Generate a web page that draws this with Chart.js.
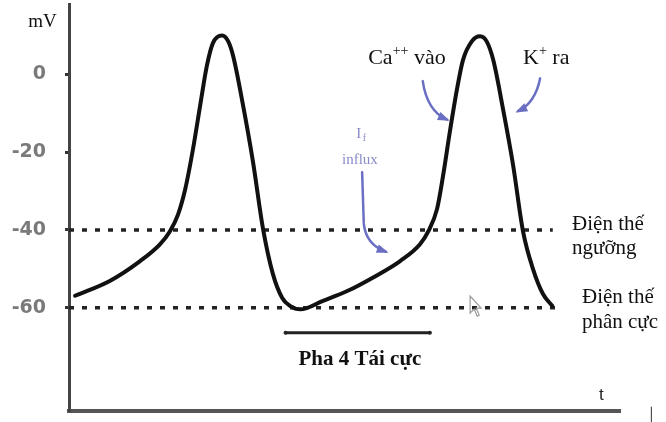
<!DOCTYPE html>
<html>
<head>
<meta charset="utf-8">
<script src="https://cdn.jsdelivr.net/npm/chart.js@4"></script>
<style>
  body { margin: 0; background: #fff; }
  canvas { display: block; }
</style>
</head>
<body>
<canvas id="apChart" width="666" height="422"></canvas>
<script>
// time (arbitrary units) and membrane potential (mV)
const times = [1.1, 7.4, 12.9, 16.5, 18.3, 19.8, 21.1, 22.5, 23.8, 25.0,
  26.1, 27.8, 28.9, 29.8, 31.6, 33.4, 35.2, 37.0, 38.7, 40.1,
  42.0, 46.1, 50.5, 55.2, 60.1, 63.7, 65.2, 66.8, 67.9, 69.1,
  70.4, 71.5, 73.1, 74.6, 75.8, 77.0, 78.8, 80.6, 82.4, 84.2,
  86.0, 87.7];
const voltages = [-56.9, -53.1, -48, -43.7, -40.4, -36, -29.5, -19.3, -8.1, 2,
  7.9, 9.9, 8.4, 4.6, -8.1, -22.6, -39.6, -51.3, -57.5, -59.5,
  -60.4, -58.2, -55.7, -52.2, -48, -43.7, -40.4, -34.6, -26, -15,
  -4, 3.6, 8.4, 9.7, 8.4, 3.6, -9.2, -23.4, -40.4, -50,
  -56.4, -59.5];
const yTicks = [0, -20, -40, -60];
const thresholdLevel = -40;
const thresholdEnd = 87.8;
const restingLevel = -60;
const restingEnd = 89;
const phaseStart = 39.3;
const phaseEnd = 65.5;
const phaseLevel = -66.4;

const blue = "#6b6fc4";
const serif = "'Liberation Serif', 'Times New Roman', serif";

// text and arrows, placed in data coordinates
const labels = [
  { parts: [{ t: "mV" }], x: -7.4, y: 12.2, size: 19 },
  { parts: [{ t: "Ca" }, { t: "++", sup: true }, { t: " vào" }], x: 54.3, y: 2.7, size: 22 },
  { parts: [{ t: "K" }, { t: "+", sup: true }, { t: " ra" }], x: 82.4, y: 2.7, size: 22 },
  { parts: [{ t: "Điện thế" }], x: 91.3, y: -40.0, size: 21 },
  { parts: [{ t: "ngưỡng" }], x: 91.3, y: -46.3, size: 21 },
  { parts: [{ t: "Điện thế" }], x: 93.1, y: -58.8, size: 21 },
  { parts: [{ t: "phân cực" }], x: 93.1, y: -65.1, size: 21 },
];

const arrows = [
  { from: [64.2, -1.8], ctrl: [65.0, -9.5], to: [68.6, -11.7] },
  { from: [85.5, -1.1], ctrl: [84.6, -7.4], to: [81.5, -9.5] },
  { from: [53.2, -25.2], mid: [53.5, -38.4], ctrl: [53.9, -43.8], to: [57.5, -45.6] },
];

function drawRich(ctx, parts, x, y, size, color, weight) {
  let cx = x;
  parts.forEach(p => {
    const s = p.sup ? Math.round(size * 0.62) : size;
    ctx.font = `${weight || ""} ${s}px ${serif}`;
    ctx.fillStyle = color;
    ctx.fillText(p.t, cx, p.sup ? y - size * 0.38 : y);
    cx += ctx.measureText(p.t).width;
  });
}

const annotate = {
  id: "annotate",
  afterDatasetsDraw(chart) {
    const { ctx, scales: { x, y } } = chart;
    const px = v => x.getPixelForValue(v);
    const py = v => y.getPixelForValue(v);
    ctx.save();
    ctx.textBaseline = "alphabetic";
    ctx.textAlign = "left";

    labels.forEach(l => drawRich(ctx, l.parts, px(l.x), py(l.y), l.size, "#111"));

    // bold phase label
    ctx.textAlign = "center";
    ctx.font = `bold 21px ${serif}`;
    ctx.fillStyle = "#111";
    ctx.fillText("Pha 4 Tái cực", px(52.8), py(-74.8));

    // I_f influx label
    ctx.fillStyle = "#8a8cc8";
    ctx.font = `15px ${serif}`;
    ctx.fillText("I", px(52.6), py(-16.3));
    ctx.font = `10px ${serif}`;
    ctx.fillText("f", px(53.6), py(-17.3));
    ctx.font = `15px ${serif}`;
    ctx.fillText("influx", px(52.8), py(-23.2));

    // t label on time axis
    ctx.textAlign = "left";
    ctx.fillStyle = "#222";
    ctx.font = "17px 'Liberation Sans', Arial, sans-serif";
    ctx.fillText("t", px(96.2), py(-83.7));

    // arrows
    ctx.strokeStyle = blue;
    ctx.fillStyle = blue;
    ctx.lineWidth = 2.5;
    ctx.lineCap = "round";
    arrows.forEach(a => {
      ctx.beginPath();
      ctx.moveTo(px(a.from[0]), py(a.from[1]));
      if (a.mid) ctx.lineTo(px(a.mid[0]), py(a.mid[1]));
      ctx.quadraticCurveTo(px(a.ctrl[0]), py(a.ctrl[1]), px(a.to[0]), py(a.to[1]));
      ctx.stroke();
      const ex = px(a.to[0]), ey = py(a.to[1]);
      const ang = Math.atan2(ey - py(a.ctrl[1]), ex - px(a.ctrl[0]));
      ctx.beginPath();
      ctx.moveTo(ex + Math.cos(ang) * 3, ey + Math.sin(ang) * 3);
      ctx.lineTo(ex - Math.cos(ang - 0.45) * 10, ey - Math.sin(ang - 0.45) * 10);
      ctx.lineTo(ex - Math.cos(ang + 0.45) * 10, ey - Math.sin(ang + 0.45) * 10);
      ctx.closePath();
      ctx.fill();
    });

    // mouse pointer left in the screenshot
    const cx0 = px(72.8), cy0 = py(-57);
    ctx.strokeStyle = "#9a9a9a";
    ctx.lineWidth = 1.2;
    ctx.beginPath();
    ctx.moveTo(cx0, cy0);
    ctx.lineTo(cx0, cy0 + 17);
    ctx.lineTo(cx0 + 4, cy0 + 13);
    ctx.lineTo(cx0 + 7, cy0 + 20);
    ctx.lineTo(cx0 + 9, cy0 + 19);
    ctx.lineTo(cx0 + 6, cy0 + 12);
    ctx.lineTo(cx0 + 11, cy0 + 12);
    ctx.closePath();
    ctx.stroke();

    // small tick at bottom right
    ctx.strokeStyle = "#333";
    ctx.lineWidth = 1;
    ctx.beginPath();
    ctx.moveTo(px(105.6) + 0.5, py(-85.5));
    ctx.lineTo(px(105.6) + 0.5, py(-89.5));
    ctx.stroke();

    ctx.restore();
  }
};

const ctx = document.getElementById("apChart").getContext("2d");

new Chart(ctx, {
  type: "line",
  data: {
    datasets: [
      {
        data: times.map((t, i) => ({ x: t, y: voltages[i] })),
        borderColor: "#111",
        borderWidth: 4,
        pointRadius: 0,
        cubicInterpolationMode: "monotone",
        borderCapStyle: "round",
        borderJoinStyle: "round",
      },
      {
        data: [{ x: 0, y: thresholdLevel }, { x: thresholdEnd, y: thresholdLevel }],
        borderColor: "#222",
        borderWidth: 3.5,
        borderDash: [5, 8],
        pointRadius: 0,
      },
      {
        data: [{ x: 0, y: restingLevel }, { x: restingEnd, y: restingLevel }],
        borderColor: "#222",
        borderWidth: 3.5,
        borderDash: [5, 8],
        pointRadius: 0,
      },
      {
        data: [{ x: phaseStart, y: phaseLevel }, { x: phaseEnd, y: phaseLevel }],
        borderColor: "#222",
        borderWidth: 3,
        pointRadius: 2,
        pointBackgroundColor: "#222",
        pointBorderWidth: 0,
      },
    ]
  },
  options: {
    responsive: false,
    animation: false,
    layout: { padding: { top: 0, right: 46, left: 0, bottom: 0 } },
    plugins: {
      legend: { display: false },
      tooltip: { enabled: false },
    },
    scales: {
      x: {
        type: "linear",
        min: 0,
        max: 100,
        ticks: { display: false },
        grid: { display: false, drawTicks: false },
        border: { color: "#555", width: 4 },
        afterFit(scale) {
          scale.height = 11;
          scale.paddingLeft = 0;
          scale.paddingRight = 0;
        },
      },
      y: {
        min: -86.5,
        max: 18,
        afterBuildTicks(scale) { scale.ticks = yTicks.map(v => ({ value: v })); },
        ticks: {
          color: "#7a7a7a",
          font: { family: "'DejaVu Sans'", size: 19, weight: "bold" },
          padding: 19,
        },
        grid: { display: true, drawOnChartArea: false, tickLength: 4, color: "#333", tickWidth: 3 },
        border: { color: "#444", width: 3 },
        afterFit(scale) {
          scale.width = 69;
          scale.paddingTop = 0;
          scale.paddingBottom = 0;
        },
      }
    }
  },
  plugins: [annotate]
});
</script>
</body>
</html>
